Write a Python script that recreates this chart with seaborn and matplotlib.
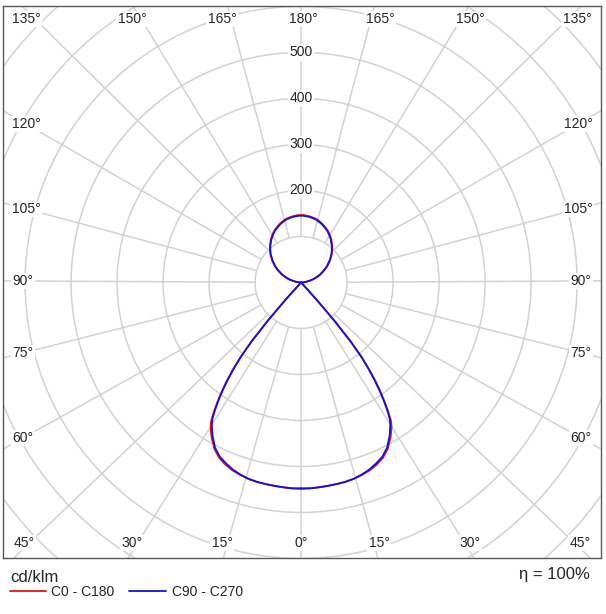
import numpy as np
import matplotlib
matplotlib.use("Agg")
import matplotlib.pyplot as plt
from matplotlib.patches import Circle
from matplotlib.lines import Line2D
import seaborn as sns

# Luminous intensity (cd/klm) against gamma angle, 0 = straight down
gamma = [0, 2.5, 5, 7.5, 10, 12.5, 15, 17.5, 20, 22.5, 25, 27.5, 30,
         31, 32, 33, 34, 35, 36, 37, 38, 39, 40, 41, 42, 43,
         45, 50, 55, 60, 65, 70, 75, 80, 85, 90,
         92.5, 95, 97.5, 100, 102.5, 105, 107.5, 110, 112.5, 115, 117.5, 120,
         122.5, 125, 127.5, 130, 132.5, 135, 137.5, 140, 142.5, 145, 147.5, 150,
         152.5, 155, 157.5, 160, 162.5, 165, 167.5, 170, 172.5, 175, 177.5, 180]

c90_c270 = [448, 448, 447, 446, 445, 444, 442, 438, 433, 426, 418, 405, 385,
            375, 366, 354, 335, 313, 290, 265, 238, 208, 168, 112, 52, 0,
            0, 0, 0, 0, 0, 0, 0, 0, 0, 0,
            3, 7, 11, 16, 21, 27, 32, 38, 44, 49, 55, 61,
            67, 72, 78, 83, 89, 94, 99, 104, 108, 113, 117, 121,
            125, 128, 131, 134, 136.5, 139, 141, 142, 143.5, 144, 145, 145]

c0_c180 = [448, 448, 447, 446, 445, 444, 442, 439, 435, 429, 421, 408, 389,
           380, 371, 359, 339, 317, 294, 269, 241, 210, 169, 112, 52, 0,
           0, 0, 0, 0, 0, 0, 0, 0, 0, 0,
           3, 7, 11, 16, 22, 28, 33.5, 39.5, 45.5, 50.5, 56.5, 62.5,
           68.5, 73.5, 79.5, 84.5, 90.5, 95.5, 100.5, 105.5, 109.5, 114.5, 118.5, 122.5,
           126.5, 129.5, 132.5, 135.5, 138, 140.5, 142.5, 143.5, 145, 145.5, 146.5, 146.5]

ring_values = [100, 200, 300, 400, 500, 600, 700, 800, 900]
ring_labels = [200, 300, 400, 500]

# spoke direction (0 = down, clockwise to the right side) and label pixel position
angle_labels = [
    (225, 26, 19), (210, 132, 19), (195, 222, 19), (180, 303, 19),
    (165, 380, 19), (150, 470, 19), (135, 577, 19),
    (240, 26, 124), (255, 26, 209), (270, 23, 281), (285, 23, 353), (300, 23, 438),
    (120, 578, 124), (105, 578, 209), (90, 581, 281), (75, 581, 353), (60, 581, 438),
    (315, 24, 543), (330, 132, 543), (345, 222, 543), (0, 301, 543),
    (15, 379, 543), (30, 470, 543), (45, 580, 543),
]

sns.set_style("white")
plt.rcParams["font.family"] = ["Liberation Sans", "DejaVu Sans"]

GRID = "#d2d2d2"
RED = "#f01010"
BLUE = "#1010e8"
CX, CY, SCALE = 301, 282.5, 0.46   # picture centre and px per cd/klm

fig = plt.figure(figsize=(6.06, 6.14), dpi=100)
ax = fig.add_axes([3 / 606, 56 / 614, 598 / 606, 552 / 614])
ax.set_xlim(-648, 652)
ax.set_ylim(-599, 601)


def px2data(px, py):
    return (px - CX) / SCALE, (CY - py) / SCALE


# rings
for r in ring_values:
    ax.add_patch(Circle((0, 0), r, fill=False, ec=GRID, lw=1.1, zorder=1))

# spokes run towards their label, angle labels sit on a white box
for a, px, py in angle_labels:
    txt = f"{a if a <= 180 else 360 - a}°"
    t = np.radians(a)
    sx, sy = np.sin(t), -np.cos(t)
    hw = 3.5 * len(txt) - 5
    if py < 30 or py > 530:
        # crossing of the true spoke with the label row, kept within the label
        tx = CX + sx * (CY - py) / -sy if abs(sy) > 1e-9 else px
        tx = min(max(tx, px - hw), px + hw)
        tx, ty = px2data(tx, py)
    else:
        tx, ty = px2data(px, py)
    d = np.hypot(tx, ty)
    ux, uy = tx / d, ty / d
    ax.plot([100 * ux, 1300 * ux], [100 * uy, 1300 * uy], color=GRID, lw=1.1, zorder=1)
    x, y = px2data(px, py)
    ax.text(x, y, txt, ha="center", va="center", fontsize=10, zorder=3,
            bbox=dict(fc="white", ec="none", pad=1.0))

for v in ring_labels:
    ax.text(0, v, str(v), ha="center", va="center", fontsize=10, zorder=3,
            bbox=dict(fc="white", ec="none", pad=1.0))

# curves: right half and mirrored left half of each plane
g = np.radians(gamma)
for vals, col in [(c0_c180, RED), (c90_c270, BLUE)]:
    r = np.array(vals, dtype=float)
    xr, yr = r * np.sin(g), -r * np.cos(g)
    x = np.concatenate([xr, -xr[::-1]])
    y = np.concatenate([yr, yr[::-1]])
    sns.lineplot(x=x, y=y, sort=False, estimator=None, color=col, lw=1.3, ax=ax, zorder=4)

ax.set_xticks([])
ax.set_yticks([])
ax.set_xlabel("")
ax.set_ylabel("")
for s in ax.spines.values():
    s.set_color("#5a5a5a")
    s.set_linewidth(1.0)

# legend area
fig.text(10 / 606, 1 - 577 / 614, "cd/klm", fontsize=12, ha="left", va="center")
fig.add_artist(Line2D([10 / 606, 46 / 606], [1 - 591 / 614] * 2, color=RED, lw=1.3,
                      transform=fig.transFigure))
fig.text(51 / 606, 1 - 592 / 614, "C0 - C180", fontsize=10, ha="left", va="center")
fig.add_artist(Line2D([129 / 606, 166 / 606], [1 - 591 / 614] * 2, color=BLUE, lw=1.3,
                      transform=fig.transFigure))
fig.text(172 / 606, 1 - 592 / 614, "C90 - C270", fontsize=10, ha="left", va="center")
fig.text(590 / 606, 1 - 575 / 614, "η = 100%", fontsize=12, ha="right", va="center")

fig.savefig("out.png", dpi=100, facecolor="white")
